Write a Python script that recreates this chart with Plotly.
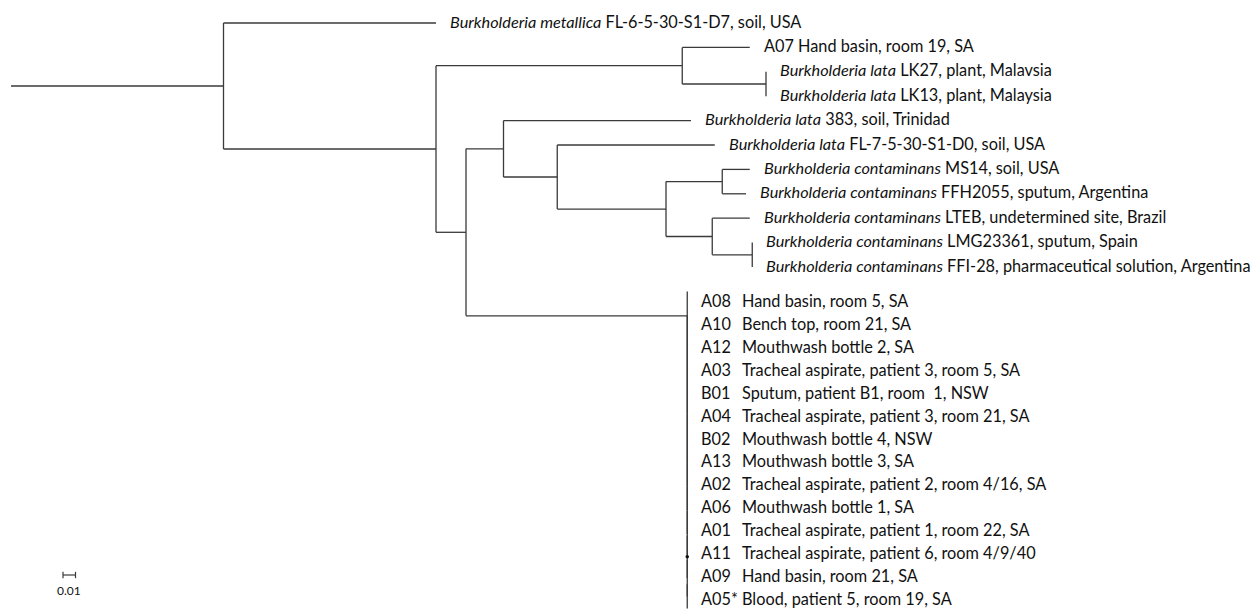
import plotly.graph_objects as go

# ---------------- data ----------------
# Tree topology and branch lengths (substitutions per site), Newick style.
clade_LK = "(LK27:0,LK13:0)"
clade_B = "(A07:0.054," + clade_LK + ":0.067)"
clade_J = "(LMG23361:0,FFI28:0)"
clade_I = "(LTEB:0.030," + clade_J + ":0.032)"
clade_H = "(MS14:0.022,FFH2055:0.019)"
clade_G = "(" + clade_H + ":0.045," + clade_I + ":0.037)"
clade_F = "(FL7:0.126," + clade_G + ":0.087)"
clade_E = "(L383:0.150," + clade_F + ":0.043)"
clade_K = ("(A08:0,(A10:0,(A12:0,(A03:0,(B01:0,(A04:0,(B02:0,(A13:0,(A02:0,(A06:0,"
           "(A01:0,(A11:0,(A09:0,A05:0):0):0)dot:0"
           "):0):0):0):0):0):0):0):0):0)")
clade_D = "(" + clade_E + ":0.030," + clade_K + ":0.177)"
clade_A = "(" + clade_B + ":0.197," + clade_D + ":0.024)"
newick = "(MET:0.170," + clade_A + ":0.170):0.170;"

# labelled reference tips: id, italic species, plain detail
tip_ids = ["MET", "A07", "LK27", "LK13", "L383", "FL7", "MS14", "FFH2055",
           "LTEB", "LMG23361", "FFI28"]
tip_species = ["Burkholderia metallica", "", "Burkholderia lata", "Burkholderia lata",
               "Burkholderia lata", "Burkholderia lata", "Burkholderia contaminans",
               "Burkholderia contaminans", "Burkholderia contaminans",
               "Burkholderia contaminans", "Burkholderia contaminans"]
tip_details = ["FL-6-5-30-S1-D7, soil, USA", "A07 Hand basin, room 19, SA",
               "LK27, plant, Malavsia", "LK13, plant, Malaysia", "383, soil, Trinidad",
               "FL-7-5-30-S1-D0, soil, USA", "MS14, soil, USA",
               "FFH2055, sputum, Argentina", "LTEB, undetermined site, Brazil",
               "LMG23361, sputum, Spain",
               "FFI-28, pharmaceutical solution, Argentina"]

# outbreak cluster isolates (listed beside the cluster)
cluster_codes = ["A08", "A10", "A12", "A03", "B01", "A04", "B02", "A13", "A02",
                 "A06", "A01", "A11", "A09", "A05*"]
cluster_sources = ["Hand basin, room 5, SA", "Bench top, room 21, SA",
                   "Mouthwash bottle 2, SA", "Tracheal aspirate, patient 3, room 5, SA",
                   "Sputum, patient B1, room \u00a01, NSW",
                   "Tracheal aspirate, patient 3, room 21, SA",
                   "Mouthwash bottle 4, NSW", "Mouthwash bottle 3, SA",
                   "Tracheal aspirate, patient 2, room 4/16, SA",
                   "Mouthwash bottle 1, SA", "Tracheal aspirate, patient 1, room 22, SA",
                   "Tracheal aspirate, patient 6, room 4/9/40",
                   "Hand basin, room 21, SA", "Blood, patient 5, room 19, SA"]

scale_value = 0.01
scale_text = "0.01"

# ---------------- parse & layout ----------------
def parse(s):
    pos = 0

    def node():
        nonlocal pos
        n = {"name": "", "len": 0.0, "children": []}
        if s[pos] == "(":
            pos += 1
            while True:
                n["children"].append(node())
                if s[pos] == ",":
                    pos += 1
                    continue
                if s[pos] == ")":
                    pos += 1
                    break
        start = pos
        while pos < len(s) and s[pos] not in ",():;":
            pos += 1
        n["name"] = s[start:pos]
        if pos < len(s) and s[pos] == ":":
            pos += 1
            start = pos
            while s[pos] not in ",();":
                pos += 1
            n["len"] = float(s[start:pos])
        return n

    return node()


root = parse(newick)
counter = [0]
nodes = {}


def layout(n, x0):
    n["x"] = x0 + n["len"]
    n["px"] = x0
    if n["children"]:
        for c in n["children"]:
            layout(c, n["x"])
        n["y"] = (n["children"][0]["y"] + n["children"][-1]["y"]) / 2
    else:
        n["y"] = counter[0]
        counter[0] += 1
    if n["name"]:
        nodes[n["name"]] = n


layout(root, 0.0)

xs, ys = [], []


def draw(n):
    if n["x"] > n["px"]:
        xs.extend([n["px"], n["x"], None])
        ys.extend([n["y"], n["y"], None])
    if n["children"]:
        xs.extend([n["x"], n["x"], None])
        ys.extend([n["children"][0]["y"], n["children"][-1]["y"], None])
        for c in n["children"]:
            draw(c)


draw(root)

# ---------------- figure ----------------
W, H = 1255, 609
PX_PER_UNIT = 1250.0      # horizontal pixels per substitution/site
ROW_PX = 24.4             # vertical pixels per tree row
X0_PX, Y0_PX = 11, 23     # pixel position of root start / first row
LINE = "#3a3a3a"
TXT = "#111111"
FONT = "Lato"
FS = 16.3

xr = [-X0_PX / PX_PER_UNIT, (W - X0_PX) / PX_PER_UNIT]
yr = [(H - Y0_PX) / ROW_PX, -Y0_PX / ROW_PX]


def px_to_row(p):
    return (p - Y0_PX) / ROW_PX


fig = go.Figure()
fig.add_trace(go.Scatter(x=xs, y=ys, mode="lines",
                         line=dict(color=LINE, width=1.3),
                         hoverinfo="skip", showlegend=False))

dot = nodes["dot"]
cluster_x = nodes["A08"]["x"]
fig.add_trace(go.Scatter(x=[cluster_x], y=[dot["y"]], mode="markers",
                         marker=dict(color="#111", size=3.5),
                         hoverinfo="skip", showlegend=False))

ann = []
for tid, sp, det in zip(tip_ids, tip_species, tip_details):
    n = nodes[tid]
    txt = ("<i>" + sp + "</i> " + det) if sp else det
    ann.append(dict(x=n["x"], y=n["y"], xref="x", yref="y", text=txt,
                    showarrow=False, xanchor="left", yanchor="middle",
                    xshift=12, yshift=2,
                    font=dict(family=FONT, size=FS, color=TXT)))

LABEL_TOP_PX, LABEL_STEP_PX = 300.5, 22.92
for i, (code, src) in enumerate(zip(cluster_codes, cluster_sources)):
    yy = px_to_row(LABEL_TOP_PX + i * LABEL_STEP_PX)
    ann.append(dict(x=cluster_x, y=yy, xref="x", yref="y", text=code,
                    showarrow=False, xanchor="left", yanchor="middle", xshift=12,
                    font=dict(family=FONT, size=FS, color=TXT)))
    ann.append(dict(x=cluster_x, y=yy, xref="x", yref="y", text=src,
                    showarrow=False, xanchor="left", yanchor="middle",
                    xshift=53,
                    font=dict(family=FONT, size=FS, color=TXT)))

# scale bar
sb_x0 = (63 - X0_PX) / PX_PER_UNIT
sb_y = px_to_row(575)
cap = 0.13
fig.add_trace(go.Scatter(
    x=[sb_x0, sb_x0 + scale_value, None, sb_x0, sb_x0, None,
       sb_x0 + scale_value, sb_x0 + scale_value],
    y=[sb_y, sb_y, None, sb_y - cap, sb_y + cap, None, sb_y - cap, sb_y + cap],
    mode="lines", line=dict(color=LINE, width=1.2),
    hoverinfo="skip", showlegend=False))
ann.append(dict(x=sb_x0 + scale_value / 2, y=px_to_row(590), xref="x", yref="y",
                text=scale_text, showarrow=False, xanchor="center", yanchor="middle",
                font=dict(family=FONT, size=12, color=TXT)))

fig.update_layout(
    width=W, height=H, margin=dict(l=0, r=0, t=0, b=0),
    paper_bgcolor="white", plot_bgcolor="white",
    xaxis=dict(range=xr, visible=False, fixedrange=True),
    yaxis=dict(range=yr, visible=False, fixedrange=True),
    annotations=ann,
)

fig.write_html("out.html",
               config={"displayModeBar": False},
               post_script="document.body.style.margin='0';"
                           "document.body.style.overflow='hidden';")
